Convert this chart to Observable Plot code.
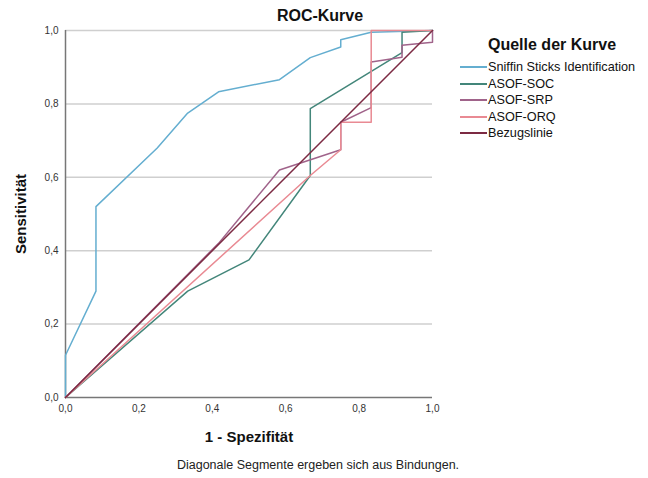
<!DOCTYPE html>
<html>
<head>
<meta charset="utf-8">
<script src="https://cdn.jsdelivr.net/npm/d3@7"></script>
<script src="https://cdn.jsdelivr.net/npm/@observablehq/plot@0.6"></script>
<style>
  body { margin: 0; background: #fff; }
  #wrap { position: relative; width: 648px; height: 478px; font-family: "Liberation Sans", Arial, sans-serif; color: #111; }
  #wrap svg { position: absolute; left: 0; top: 0; }
  #title { position: absolute; left: 220px; width: 200px; top: 7px; text-align: center; font-weight: bold; font-size: 16px; }
  #legend { position: absolute; left: 460px; top: 36px; }
  #legend .lt { font-weight: bold; font-size: 16px; margin-left: 28px; margin-bottom: 5px; }
  #legend .it { display: flex; align-items: center; height: 16.5px; font-size: 12.7px; }
  #legend .it span.sw { display: inline-block; width: 27px; height: 1.6px; margin-right: 1px; }
  #foot { position: absolute; left: 118px; width: 400px; top: 458px; text-align: center; font-size: 12.5px; color: #222; }
  g[aria-label="x-axis label"] text, g[aria-label="y-axis label"] text { font-weight: bold; font-size: 15px; fill: #111; }
</style>
</head>
<body>
<div id="wrap">
  <div id="title">ROC-Kurve</div>
  <div id="legend"></div>
  <div id="foot">Diagonale Segmente ergeben sich aus Bindungen.</div>
</div>
<script>
const seriesNames = ["Sniffin Sticks Identification", "ASOF-SOC", "ASOF-SRP", "ASOF-ORQ", "Bezugslinie"];
const seriesColors = ["#64aed0", "#43867a", "#a0638a", "#e98a93", "#7c2a43"];

const sniffinX = [0, 0, 0.083, 0.083, 0.25, 0.333, 0.417, 0.583, 0.667, 0.75, 0.75, 0.833, 1];
const sniffinY = [0, 0.115, 0.29, 0.52, 0.68, 0.775, 0.833, 0.866, 0.926, 0.955, 0.975, 0.995, 1];
const socX = [0, 0.333, 0.5, 0.667, 0.667, 0.917, 0.917, 1];
const socY = [0, 0.29, 0.375, 0.605, 0.787, 0.94, 0.995, 1];
const srpX = [0, 0.417, 0.583, 0.75, 0.75, 0.833, 0.833, 0.917, 0.917, 1, 1];
const srpY = [0, 0.42, 0.62, 0.675, 0.75, 0.79, 0.914, 0.927, 0.96, 0.968, 1];
const orqX = [0, 0.667, 0.75, 0.75, 0.833, 0.833, 1];
const orqY = [0, 0.605, 0.675, 0.75, 0.75, 1, 1];
const refX = [0, 1];
const refY = [0, 1];

const xTicks = [0, 0.2, 0.4, 0.6, 0.8, 1.0];
const yTicks = [0, 0.2, 0.4, 0.6, 0.8, 1.0];
const fmt = d => d.toFixed(1).replace(".", ",");

const allX = [sniffinX, socX, srpX, orqX, refX];
const allY = [sniffinY, socY, srpY, orqY, refY];
const rows = [];
seriesNames.forEach((s, i) => {
  allX[i].forEach((x, j) => rows.push({series: s, order: i, x, y: allY[i][j]}));
});

const chart = Plot.plot({
  width: 648,
  height: 478,
  marginLeft: 65,
  marginRight: 216,
  marginTop: 30,
  marginBottom: 81,
  style: {fontFamily: "'Liberation Sans', Arial, sans-serif", fontSize: "10px", color: "#333", background: "transparent"},
  x: {domain: [0, 1]},
  y: {domain: [0, 1]},
  color: {domain: seriesNames, range: seriesColors},
  marks: [
    Plot.gridY(yTicks.slice(1), {stroke: "#cfcfcf", strokeOpacity: 1, strokeWidth: 1.5}),
    Plot.axisX({ticks: xTicks, tickFormat: fmt, tickSize: 0, tickPadding: 7, label: "1 - Spezifität", labelAnchor: "center", labelOffset: 44, labelArrow: "none"}),
    Plot.axisY({ticks: yTicks, tickFormat: fmt, tickSize: 0, tickPadding: 7, label: "Sensitivität", labelAnchor: "center", labelOffset: 50, labelArrow: "none"}),
    Plot.ruleX([0], {stroke: "#777", strokeWidth: 1.5}),
    Plot.ruleY([0], {stroke: "#777", strokeWidth: 1.5}),
    Plot.line(rows, {x: "x", y: "y", z: "series", stroke: "series", strokeWidth: 1.5})
  ]
});
document.getElementById("wrap").appendChild(chart);

const legend = document.getElementById("legend");
const lt = document.createElement("div");
lt.className = "lt";
lt.textContent = "Quelle der Kurve";
legend.appendChild(lt);
seriesNames.forEach((s, i) => {
  const it = document.createElement("div");
  it.className = "it";
  const sw = document.createElement("span");
  sw.className = "sw";
  sw.style.background = seriesColors[i];
  it.appendChild(sw);
  const t = document.createElement("span");
  t.textContent = s;
  it.appendChild(t);
  legend.appendChild(it);
});
</script>
</body>
</html>
